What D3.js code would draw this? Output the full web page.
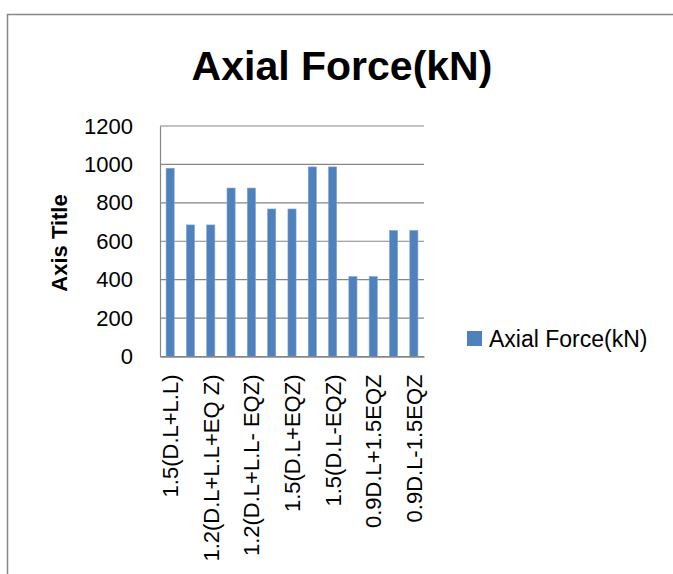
<!DOCTYPE html>
<html>
<head>
<meta charset="utf-8">
<script src="https://cdn.jsdelivr.net/npm/d3@7"></script>
<style>
  body { margin: 0; background: #fff; }
  svg { display: block; font-family: "Liberation Sans", Arial, sans-serif; }
</style>
</head>
<body>
<svg id="chart" width="673" height="574"></svg>
<script>
const categories = [
  "1.5(D.L+L.L)",
  "1.2(D.L+L.L+EQ X)",
  "1.2(D.L+L.L+EQ Z)",
  "1.2(D.L+L.L- EQX)",
  "1.2(D.L+L.L- EQZ)",
  "1.5(D.L+EQX)",
  "1.5(D.L+EQZ)",
  "1.5(D.L-EQX)",
  "1.5(D.L-EQZ)",
  "0.9D.L+1.5EQX",
  "0.9D.L+1.5EQZ",
  "0.9D.L-1.5EQX",
  "0.9D.L-1.5EQZ"
];
const axialForce = [980, 685, 685, 877, 877, 768, 768, 987, 987, 416, 416, 656, 656];
const yTicks = [0, 200, 400, 600, 800, 1000, 1200];
const seriesName = "Axial Force(kN)";
const chartTitle = "Axial Force(kN)";
const yAxisTitle = "Axis Title";

const svg = d3.select("#chart");
const plot = { left: 160, right: 424, top: 126, bottom: 356.5 };
const gridColor = "#868686";
const barColor = "#4F81BD";

// outer chart border
svg.append("rect")
  .attr("x", 7.5).attr("y", 14.5)
  .attr("width", 700).attr("height", 600)
  .attr("fill", "none").attr("stroke", gridColor).attr("stroke-width", 1.5);

const x = d3.scaleBand().domain(categories)
  .range([plot.left, plot.right]).paddingInner(0.6).paddingOuter(0.3);
const y = d3.scaleLinear().domain([0, 1200]).range([plot.bottom, plot.top]);

// gridlines
svg.append("g").selectAll("line").data(yTicks).join("line")
  .attr("x1", plot.left).attr("x2", plot.right)
  .attr("y1", d => y(d)).attr("y2", d => y(d))
  .attr("stroke", gridColor).attr("stroke-width", 1.2);

// y axis
const yAxis = svg.append("g").attr("transform", `translate(${plot.left},0)`)
  .call(d3.axisLeft(y).tickValues(yTicks).tickFormat(d3.format("d")).tickSize(0).tickPadding(27));
yAxis.attr("font-size", null).attr("font-family", null);
yAxis.select(".domain").attr("stroke", gridColor).attr("stroke-width", 1.2);
yAxis.selectAll("text").style("font-size", "22px").attr("fill", "#000");

// bars
svg.append("g").selectAll("rect").data(axialForce).join("rect")
  .attr("x", (d, i) => x(categories[i]))
  .attr("width", x.bandwidth())
  .attr("y", d => y(d))
  .attr("height", d => y(0) - y(d))
  .attr("fill", barColor)
  .attr("stroke", "#7fa4d3").attr("stroke-width", 0.6);

// x axis
const xAxis = svg.append("g").attr("transform", `translate(0,${plot.bottom})`)
  .call(d3.axisBottom(x).tickValues(categories.filter((c, i) => i % 2 === 0)).tickSize(0).tickPadding(0));
xAxis.attr("font-size", null).attr("font-family", null);
xAxis.select(".domain").attr("stroke", gridColor).attr("stroke-width", 1.5);
xAxis.selectAll("text")
  .style("font-size", "22px").attr("fill", "#000")
  .attr("transform", "rotate(-90)")
  .attr("text-anchor", "end")
  .attr("x", -18).attr("y", 0).attr("dy", "0.36em");

// title
svg.append("text")
  .attr("x", 342).attr("y", 80)
  .attr("text-anchor", "middle")
  .attr("font-size", 41).attr("font-weight", "bold")
  .text(chartTitle);

// y axis title
svg.append("text")
  .attr("transform", "translate(67,243) rotate(-90)")
  .attr("text-anchor", "middle")
  .attr("font-size", 22).attr("font-weight", "bold")
  .text(yAxisTitle);

// legend
const legend = svg.append("g");
legend.append("rect").attr("x", 467).attr("y", 331).attr("width", 15).attr("height", 15).attr("fill", barColor);
legend.append("text").attr("x", 489).attr("y", 346.5).attr("font-size", 23).text(seriesName);
</script>
</body>
</html>
